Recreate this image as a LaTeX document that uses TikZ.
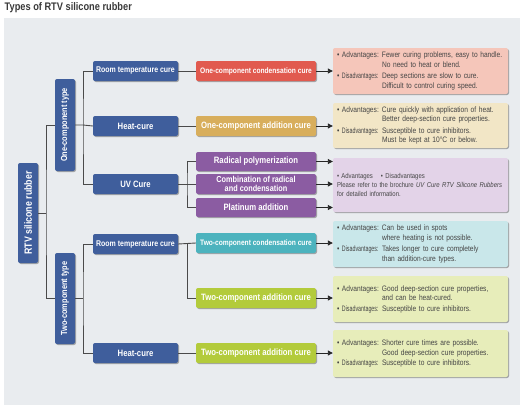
\documentclass[tikz,border=0pt]{standalone}
\usepackage{graphicx}
\usepackage{fontspec}
\setmainfont{Liberation Sans}[FakeStretch=0.84]
\usetikzlibrary{shadows,arrows.meta}
\definecolor{bgc}{HTML}{E9ECEF}
\definecolor{titlec}{HTML}{3A3A3A}
\definecolor{nblue}{HTML}{3F5E9C}
\definecolor{nred}{HTML}{E15A4F}
\definecolor{ngold}{HTML}{D8AE5C}
\definecolor{npurple}{HTML}{8B5CA2}
\definecolor{nteal}{HTML}{4CB3BE}
\definecolor{ngreen}{HTML}{B3CB3B}
\definecolor{lpink}{HTML}{F5C6BA}
\definecolor{lcream}{HTML}{F2E6C6}
\definecolor{llav}{HTML}{E3D3E8}
\definecolor{lteal}{HTML}{C9E7EA}
\definecolor{lgreen}{HTML}{E7EDBA}
\definecolor{txtc}{HTML}{454545}
\definecolor{linec}{HTML}{4A4A4A}
\newcommand\advlab{\makebox[45pt][l]{\textbullet\ Advantages:}}
\newcommand\dislab{\makebox[45pt][l]{\textbullet\ \scalebox{0.8}[1]{Disadvantages:}}}
\newcommand\indlab{\makebox[45pt][l]{}}
\begin{document}
\begin{tikzpicture}[x=1pt,y=-1pt,
  shad/.style={drop shadow={shadow xshift=1pt,shadow yshift=-1pt,opacity=0.3,fill=black}},
  colbox/.style={rectangle, rounded corners=2pt, text=white, inner sep=0pt, align=center,
    font=\bfseries\fontsize{8}{9}\selectfont, shad},
  lvltwo/.style={colbox, fill=nblue, minimum width=85pt, minimum height=20pt},
  vbox/.style={colbox, fill=nblue, minimum height=20pt, rotate=90},
  lvlthree/.style={colbox, minimum width=120pt, minimum height=20pt},
  big/.style={font=\bfseries\fontsize{9.2}{10}\selectfont},
  infobox/.style={rectangle, rounded corners=2pt, minimum width=175pt, text width=167pt,
    inner xsep=4pt, inner ysep=0pt, align=left, text=txtc,
    font=\fontsize{7.9}{9.5}\selectfont, shad},
  conn/.style={draw=linec, line width=0.9pt},
  arr/.style={draw=black!85, line width=0.9pt, -{Triangle[length=5pt,width=5pt]}}
]
\useasboundingbox (0,0) rectangle (529,410);
\fill[white] (0,0) rectangle (529,410);
\node[anchor=west, inner sep=0pt, text=titlec, font=\bfseries\fontsize{11}{12}\selectfont] (title) at (4.5,8) {Types of RTV silicone rubber};
\fill[bgc] (4,18) rectangle (520,405);

% level 0/1
\node[vbox, minimum width=100pt, font=\bfseries\fontsize{10.5}{11}\selectfont] (rtv) at (28,213) {RTV silicone rubber};
\node[vbox, minimum width=92pt, font=\bfseries\fontsize{8.8}{9}\selectfont] (one) at (65,125) {One-component type};
\node[vbox, minimum width=91pt, font=\bfseries\fontsize{8.8}{9}\selectfont] (two) at (65,298.5) {Two-component type};

% level 2
\node[lvltwo, font=\bfseries\fontsize{8.3}{9}\selectfont] (rt1) at (135.5,71) {Room temperature cure};
\node[lvltwo, big] (hc1) at (135.5,126) {Heat-cure};
\node[lvltwo, big] (uv) at (135.5,184) {UV Cure};
\node[lvltwo, font=\bfseries\fontsize{8.3}{9}\selectfont] (rt2) at (135.5,244) {Room temperature cure};
\node[lvltwo, big] (hc2) at (135.5,353) {Heat-cure};

% level 3
\node[lvlthree, fill=nred, font=\bfseries\fontsize{7.9}{9}\selectfont] (c1) at (256,71) {One-component condensation cure};
\node[lvlthree, fill=ngold, big] (c2) at (256,126) {One-component addition cure};
\node[lvlthree, fill=npurple, minimum height=19pt, big] (u1) at (256,161.5) {Radical polymerization};
\node[lvlthree, fill=npurple, font=\bfseries\fontsize{8.7}{8.4}\selectfont] (u2) at (256,184) {Combination of radical\\and condensation};
\node[lvlthree, fill=npurple, minimum height=19pt, big] (u3) at (256,207.5) {Platinum addition};
\node[lvlthree, fill=nteal, font=\bfseries\fontsize{7.9}{9}\selectfont] (c4) at (256,243) {Two-component condensation cure};
\node[lvlthree, fill=ngreen, big] (c5) at (256,298) {Two-component addition cure};
\node[lvlthree, fill=ngreen, big] (c6) at (256,353) {Two-component addition cure};

% info boxes
\node[infobox, fill=lpink, minimum height=46pt] (d1) at (420.5,71) {%
\advlab Fewer curing problems, easy to handle.\\
\indlab No need to heat or blend.\\[2pt]
\dislab Deep sections are slow to cure.\\
\indlab Difficult to control curing speed.};
\node[infobox, fill=lcream, minimum height=45pt] (d2) at (420.5,125.5) {%
\advlab Cure quickly with application of heat.\\
\indlab Better deep-section cure properties.\\[2pt]
\dislab Susceptible to cure inhibitors.\\
\indlab Must be kept at 10°C or below.};
\node[infobox, fill=llav, minimum height=54pt, font=\fontsize{7.1}{9}\selectfont] (d3) at (420.5,185) {%
\textbullet\ Advantages\hspace{8pt}\textbullet\ Disadvantages\\
Please refer to the brochure \textit{UV Cure RTV Silicone Rubbers}\\
for detailed information.};
\node[infobox, fill=lteal, minimum height=46pt] (d4) at (420.5,244) {%
\advlab Can be used in spots\\
\indlab where heating is not possible.\\[2pt]
\dislab Takes longer to cure completely\\
\indlab than addition-cure types.};
\node[infobox, fill=lgreen, minimum height=46pt] (d5) at (420.5,299) {%
\advlab Good deep-section cure properties,\\
\indlab and can be heat-cured.\\[1pt]
\dislab Susceptible to cure inhibitors.};
\node[infobox, fill=lgreen, minimum height=47pt] (d6) at (420.5,353.5) {%
\advlab Shorter cure times are possible.\\
\indlab Good deep-section cure properties.\\[1pt]
\dislab Susceptible to cure inhibitors.};

% junction coordinates
\coordinate (j0) at (46,213);
\coordinate (j1) at (83,125);
\coordinate (j2) at (83,298.5);
\coordinate (j3) at (187,184);
\coordinate (j4) at (187,244);

% connectors
\draw[conn] (rtv.south) -- (j0);
\draw[conn] (one.north) -| (j0) |- (two.north);
\draw[conn] (rt1.west) -| (j1) |- (uv.west);
\draw[conn] (one.south) -- (j1) -- (hc1.west);
\draw[conn] (rt2.west) -| (j2) |- (hc2.west);
\draw[conn] (two.south) -- (j2);
\draw[conn] (rt1.east) -- (c1.west);
\draw[conn] (hc1.east) -- (c2.west);
\draw[conn] (uv.east) -- (j3);
\draw[conn] (u1.west) -| (j3) |- (u3.west);
\draw[conn] (j3) -- (u2.west);
\draw[conn] (rt2.east) -- (c4.west);
\draw[conn] (j4) |- (c5.west);
\draw[conn] (hc2.east) -- (c6.west);

% arrows
\draw[arr] (c1.east) -- (d1.west |- c1.east);
\draw[arr] (c2.east) -- (d2.west |- c2.east);
\draw[arr] (u1.east) -- (d3.west |- u1.east);
\draw[arr] (u2.east) -- (d3.west |- u2.east);
\draw[arr] (u3.east) -- (d3.west |- u3.east);
\draw[arr] (c4.east) -- (d4.west |- c4.east);
\draw[arr] (c5.east) -- (d5.west |- c5.east);
\draw[arr] (c6.east) -- (d6.west |- c6.east);
\end{tikzpicture}
\end{document}
